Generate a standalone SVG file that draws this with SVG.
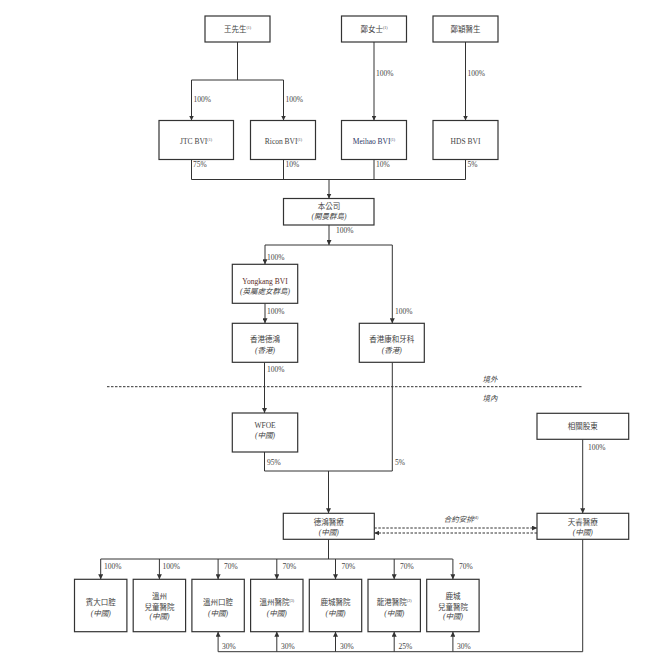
<svg xmlns="http://www.w3.org/2000/svg" width="663" height="672" viewBox="0 0 663 672">
<defs>
<marker id="ah" markerUnits="userSpaceOnUse" markerWidth="5" markerHeight="5" refX="5" refY="2.5" orient="auto"><path d="M0,0 L5,2.5 L0,5 z" fill="#333"/></marker>
<style>
.box{fill:#fff;stroke:#333;stroke-width:1.2}
.t{font-family:"Liberation Serif","Noto Sans CJK TC",serif;font-size:7.5px;fill:#444;text-anchor:middle}
.i{font-style:italic}
.p{font-family:"Liberation Serif","Noto Sans CJK TC",serif;font-size:7.5px;fill:#444}
.sup{font-size:4px}
.ln{fill:none;stroke:#333;stroke-width:1}
.arr{marker-end:url(#ah)}
.dash{fill:none;stroke:#333;stroke-width:1;stroke-dasharray:2.5,1.5}
</style>
</defs>
<rect width="663" height="672" fill="#fff"/>

<g id="connectors">
<path class="ln" d="M237.5,42 V80 M191.5,80 H283.5"/>
<path class="ln arr" d="M191.5,80 V120.5"/>
<path class="ln arr" d="M283.5,80 V120.5"/>
<path class="ln arr" d="M374,42 V120.5"/>
<path class="ln arr" d="M465.5,42 V120.5"/>
<path class="ln" d="M191.5,159.5 V179.5 M283.5,159.5 V179.5 M374,159.5 V179.5 M465.5,159.5 V179.5 M191.5,179.5 H465.5"/>
<path class="ln arr" d="M329,179.5 V198.5"/>
<path class="ln arr" d="M329,225 V245"/>
<path class="ln" d="M265,245 H392.3"/>
<path class="ln arr" d="M265,245 V264.3"/>
<path class="ln arr" d="M392.3,245 V323.3"/>
<path class="ln arr" d="M265,303.3 V323.3"/>
<path class="ln arr" d="M264.5,362.3 V413"/>
<path class="ln" d="M392.3,362.3 V471 M264.5,452 V471 H392.3"/>
<path class="dash" d="M107,386.7 H582"/>
<path class="ln arr" d="M328.5,471 V513.3"/>
<path class="ln arr" d="M582.7,439.3 V513.3"/>
<path class="dash arr" d="M374.3,528 H537"/>
<path class="dash arr" d="M537,533 H374.3"/>
<path class="ln" d="M328.5,539.3 V559 M100.7,559 H452.7"/>
<path class="ln arr" d="M100.7,559 V579.3"/>
<path class="ln arr" d="M159.4,559 V579.3"/>
<path class="ln arr" d="M218.1,559 V579.3"/>
<path class="ln arr" d="M276.8,559 V579.3"/>
<path class="ln arr" d="M335.5,559 V579.3"/>
<path class="ln arr" d="M394.2,559 V579.3"/>
<path class="ln arr" d="M452.9,559 V579.3"/>
<path class="ln" d="M582.7,539.3 V651.7 H218.1"/>
<path class="ln arr" d="M218.1,651.7 V631.7"/>
<path class="ln arr" d="M276.8,651.7 V631.7"/>
<path class="ln arr" d="M335.5,651.7 V631.7"/>
<path class="ln arr" d="M394.2,651.7 V631.7"/>
<path class="ln arr" d="M452.9,651.7 V631.7"/>
</g>

<g id="labels">
<text class="p" x="193.5" y="102">100%</text>
<text class="p" x="285.5" y="102">100%</text>
<text class="p" x="376" y="76">100%</text>
<text class="p" x="467.5" y="76">100%</text>
<text class="p" x="193" y="167">75%</text>
<text class="p" x="285.5" y="167">10%</text>
<text class="p" x="376" y="167">10%</text>
<text class="p" x="467.5" y="167">5%</text>
<text class="p" x="336" y="233">100%</text>
<text class="p" x="267" y="259.5">100%</text>
<text class="p" x="267" y="314">100%</text>
<text class="p" x="395" y="314">100%</text>
<text class="p" x="267" y="372">100%</text>
<text class="t i" x="490" y="382">境外</text>
<text class="t i" x="490" y="401">境內</text>
<text class="p" x="267" y="465">95%</text>
<text class="p" x="395" y="465">5%</text>
<text class="p" x="588" y="449.5">100%</text>
<text class="t i" x="461" y="522">合約安排<tspan class="sup" dy="-3">(4)</tspan></text>
<text class="p" x="104" y="568.5">100%</text>
<text class="p" x="162.5" y="568.5">100%</text>
<text class="p" x="224" y="568.5">70%</text>
<text class="p" x="282.5" y="568.5">70%</text>
<text class="p" x="341.5" y="568.5">70%</text>
<text class="p" x="400" y="568.5">70%</text>
<text class="p" x="459" y="568.5">70%</text>
<text class="p" x="222" y="648.5">30%</text>
<text class="p" x="281" y="648.5">30%</text>
<text class="p" x="340" y="648.5">30%</text>
<text class="p" x="398.5" y="648.5">25%</text>
<text class="p" x="457" y="648.5">30%</text>
</g>

<g id="n-wang"><rect class="box" x="205" y="16" width="65" height="26"/><text class="t" x="237.5" y="31.5">王先生<tspan class="sup" dy="-3">(1)</tspan></text></g>
<g id="n-zheng"><rect class="box" x="341.5" y="16" width="65" height="26"/><text class="t" x="374" y="31.5">鄭女士<tspan class="sup" dy="-3">(1)</tspan></text></g>
<g id="n-zhengying"><rect class="box" x="433" y="16" width="65" height="26"/><text class="t" x="465.5" y="31.5">鄭穎醫生</text></g>

<g id="n-jtc"><rect class="box" x="159" y="120.5" width="74.5" height="39"/><text class="t" x="196" y="143.5">JTC BVI<tspan class="sup" dy="-3">(1)</tspan></text></g>
<g id="n-ricon"><rect class="box" x="250.5" y="120.5" width="65" height="39"/><text class="t" x="283.5" y="143.5">Ricon BVI<tspan class="sup" dy="-3">(1)</tspan></text></g>
<g id="n-meihao"><rect class="box" x="341.5" y="120.5" width="65" height="39"/><text class="t" x="374" y="143.5" style="fill:#2c3866">Meihao BVI<tspan class="sup" dy="-3">(1)</tspan></text></g>
<g id="n-hds"><rect class="box" x="433" y="120.5" width="65" height="39"/><text class="t" x="465.5" y="143.5">HDS BVI</text></g>

<g id="n-company"><rect class="box" x="283.5" y="198.5" width="90.5" height="26.5"/><text class="t" x="329" y="208.5">本公司</text><text class="t i" x="329" y="219">(開曼群島)</text></g>

<g id="n-yongkang"><rect class="box" x="232.3" y="264.3" width="65.4" height="39"/><text class="t" x="265" y="283.5" style="fill:#5a2a1e">Yongkang BVI</text><text class="t i" x="265" y="293.5">(英屬處女群島)</text></g>
<g id="n-hkdh"><rect class="box" x="232.3" y="323.3" width="65.4" height="39"/><text class="t" x="265" y="342">香港德鴻</text><text class="t i" x="265" y="352.5">(香港)</text></g>
<g id="n-hkkh"><rect class="box" x="359.3" y="323.3" width="65" height="39"/><text class="t" x="391.8" y="342">香港康和牙科</text><text class="t i" x="391.8" y="352.5">(香港)</text></g>

<g id="n-wfoe"><rect class="box" x="232.3" y="413" width="65.4" height="39"/><text class="t" x="265" y="427.5">WFOE</text><text class="t i" x="265" y="438">(中國)</text></g>
<g id="n-shareholders"><rect class="box" x="537" y="413.3" width="91.7" height="26"/><text class="t" x="582.8" y="428.8">相關股東</text></g>

<g id="n-dehong"><rect class="box" x="283.3" y="513.3" width="91" height="26"/><text class="t" x="328.8" y="524.5">德鴻醫療</text><text class="t i" x="328.8" y="535">(中國)</text></g>
<g id="n-tianrui"><rect class="box" x="537" y="513.3" width="91.7" height="26"/><text class="t" x="582.8" y="524.5">天睿醫療</text><text class="t i" x="582.8" y="535">(中國)</text></g>

<g id="n-b1"><rect class="box" x="74.5" y="579.3" width="52.4" height="52.4"/><text class="t" x="100.7" y="605">賓大口腔</text><text class="t i" x="100.7" y="615.5">(中國)</text></g>
<g id="n-b2"><rect class="box" x="133.2" y="579.3" width="52.4" height="52.4"/><text class="t" x="159.4" y="599.3">溫州</text><text class="t" x="159.4" y="609.8">兒童醫院</text><text class="t i" x="159.4" y="619">(中國)</text></g>
<g id="n-b3"><rect class="box" x="191.9" y="579.3" width="52.4" height="52.4"/><text class="t" x="218.1" y="605">溫州口腔</text><text class="t i" x="218.1" y="615.5">(中國)</text></g>
<g id="n-b4"><rect class="box" x="250.6" y="579.3" width="52.4" height="52.4"/><text class="t" x="276.8" y="605">溫州醫院<tspan class="sup" dy="-3">(3)</tspan></text><text class="t i" x="276.8" y="615.5">(中國)</text></g>
<g id="n-b5"><rect class="box" x="309.3" y="579.3" width="52.4" height="52.4"/><text class="t" x="335.5" y="605">鹿城醫院</text><text class="t i" x="335.5" y="615.5">(中國)</text></g>
<g id="n-b6"><rect class="box" x="368" y="579.3" width="52.4" height="52.4"/><text class="t" x="394.2" y="605">龍港醫院<tspan class="sup" dy="-3">(2)</tspan></text><text class="t i" x="394.2" y="615.5">(中國)</text></g>
<g id="n-b7"><rect class="box" x="426.7" y="579.3" width="52.4" height="52.4"/><text class="t" x="452.9" y="599.3">鹿城</text><text class="t" x="452.9" y="609.8">兒童醫院</text><text class="t i" x="452.9" y="619">(中國)</text></g>
</svg>
